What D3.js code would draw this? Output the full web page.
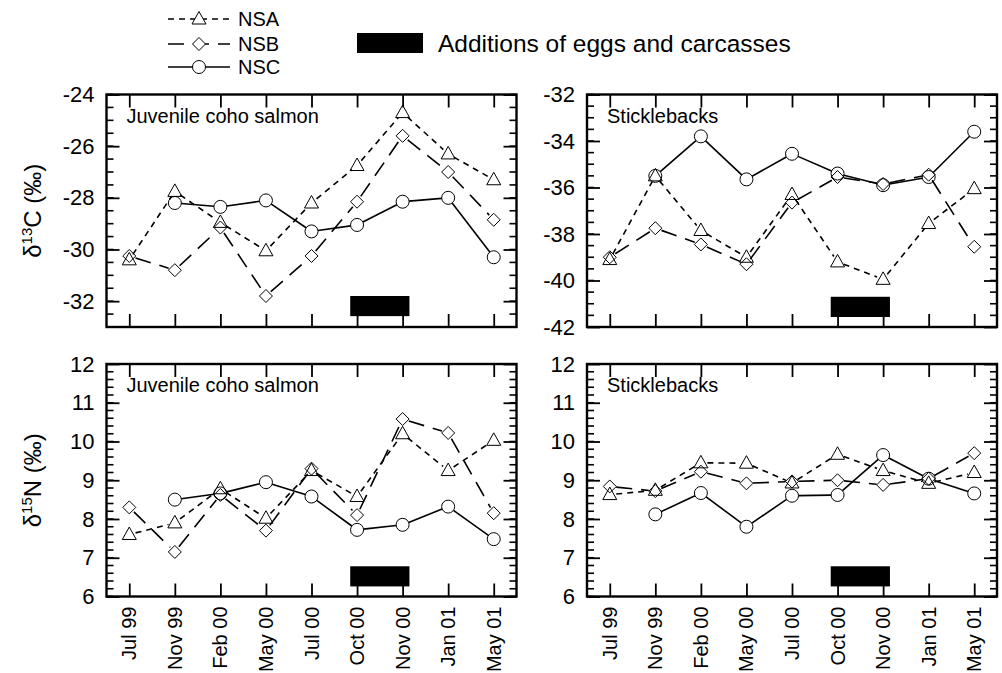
<!DOCTYPE html>
<html>
<head>
<meta charset="utf-8">
<script src="https://cdn.jsdelivr.net/npm/d3@7"></script>
<style>
  body { margin: 0; background: #fff; }
  svg { font-family: Helvetica, Arial, "Liberation Sans", sans-serif; }
</style>
</head>
<body>
<div class="chart"></div>
<script>
const WIDTH = 1002;
const HEIGHT = 673;

// sampling dates
var months = ['Jul 99', 'Nov 99', 'Feb 00', 'May 00', 'Jul 00', 'Oct 00', 'Nov 00', 'Jan 01', 'May 01'];
var series = ['NSA', 'NSB', 'NSC'];

// d13C, juvenile coho salmon
var cCohoNSA = [-30.4, -27.75, -28.95, -30.05, -28.2, -26.75, -24.7, -26.3, -27.3];
var cCohoNSB = [-30.25, -30.8, -29.15, -31.8, -30.25, -28.15, -25.6, -27.0, -28.85];
var cCohoNSC = [null, -28.2, -28.35, -28.1, -29.3, -29.05, -28.15, -28.0, -30.3];

// d13C, sticklebacks
var cStickNSA = [-39.1, -35.5, -37.85, -39.0, -36.3, -39.2, -39.95, -37.55, -36.05];
var cStickNSB = [-39.0, -37.75, -38.45, -39.3, -36.65, -35.55, -35.85, -35.45, -38.55];
var cStickNSC = [null, -35.5, -33.8, -35.65, -34.55, -35.4, -35.9, -35.55, -33.6];

// d15N, juvenile coho salmon
var nCohoNSA = [7.6, 7.9, 8.78, 8.02, 9.25, 8.58, 10.2, 9.25, 10.03];
var nCohoNSB = [8.3, 7.15, 8.62, 7.7, 9.3, 8.1, 10.58, 10.22, 8.15];
var nCohoNSC = [null, 8.5, 8.66, 8.95, 8.58, 7.72, 7.85, 8.32, 7.48];

// d15N, sticklebacks
var nStickNSA = [8.63, 8.74, 9.45, 9.44, 8.93, 9.67, 9.25, 8.92, 9.2];
var nStickNSB = [8.84, 8.72, 9.22, 8.92, 8.97, 9.0, 8.88, 9.04, 9.7];
var nStickNSC = [null, 8.12, 8.67, 7.8, 8.6, 8.62, 9.65, 9.04, 8.66];

// y axis tick values
var cCohoTicks = [-24, -26, -28, -30, -32];
var cStickTicks = [-32, -34, -36, -38, -40, -42];
var nTicks = [6, 7, 8, 9, 10, 11, 12];

// egg and carcass additions (Oct 00 - Nov 00)
var addX = [4.85, 6.15];

var panels = [
  {x: 106.5, y: 94.5, title: 'Juvenile coho salmon', domain: [-33, -24], ticks: cCohoTicks, minor: 0.5,
   data: [cCohoNSA, cCohoNSB, cCohoNSC], bar: [-31.8, -32.58], xLabels: false, yTitle: 'C'},
  {x: 587, y: 94.5, title: 'Sticklebacks', domain: [-42, -32], ticks: cStickTicks, minor: 0.5,
   data: [cStickNSA, cStickNSB, cStickNSC], bar: [-40.7, -41.57], xLabels: false},
  {x: 106.5, y: 364, title: 'Juvenile coho salmon', domain: [6, 12], ticks: nTicks, minor: 0.2,
   data: [nCohoNSA, nCohoNSB, nCohoNSC], bar: [6.78, 6.26], xLabels: true, yTitle: 'N'},
  {x: 587, y: 364, title: 'Sticklebacks', domain: [6, 12], ticks: nTicks, minor: 0.2,
   data: [nStickNSA, nStickNSB, nStickNSC], bar: [6.78, 6.26], xLabels: true}
];
const PW = 410;
const PH = 232.5;
const R = 6.5;

var dashes = {NSA: '6,5', NSB: '16,9', NSC: null};

var translate = function (x, y) {
  return 'translate(' + x + ',' + y + ')';
};

var markerPath = function (name) {
  if (name === 'NSA') return 'M0,-7.5L7,5L-7,5Z';
  if (name === 'NSB') return 'M0,-6.5L6.5,0L0,6.5L-6.5,0Z';
  return d3.symbol().type(d3.symbolCircle).size(Math.PI * R * R)();
};

var svg = d3.select('.chart').append('svg')
  .attr('width', WIDTH)
  .attr('height', HEIGHT);

var xScale = d3.scaleLinear().domain([-0.5, 8.5]).range([0, PW]);

panels.forEach(function (p) {
  var g = svg.append('g').attr('transform', translate(p.x, p.y));
  var yScale = d3.scaleLinear().domain(p.domain).range([PH, 0]);

  // minor ticks left and right
  var minor = d3.range(p.domain[0], p.domain[1] + 1e-6, p.minor);
  g.selectAll('.minorL').data(minor).enter().append('line')
    .attr('x1', 0).attr('x2', 7)
    .attr('y1', function (d) { return yScale(d); })
    .attr('y2', function (d) { return yScale(d); })
    .attr('stroke', '#000').attr('stroke-width', 1.6);
  g.selectAll('.minorR').data(minor).enter().append('line')
    .attr('x1', PW - 7).attr('x2', PW)
    .attr('y1', function (d) { return yScale(d); })
    .attr('y2', function (d) { return yScale(d); })
    .attr('stroke', '#000').attr('stroke-width', 1.6);

  // major y ticks, both sides
  var yLeft = d3.axisLeft(yScale).tickValues(p.ticks).tickSizeInner(-13).tickSizeOuter(0).tickPadding(12);
  var gy = g.append('g').call(yLeft);
  gy.select('.domain').remove();
  gy.selectAll('line').attr('stroke-width', 1.8);
  gy.selectAll('text').style('font-size', '22px').attr('fill', '#000')
    .text(function (d) { return d < 0 ? '-' + Math.abs(d) : d; });
  var yRight = d3.axisRight(yScale).tickValues(p.ticks).tickSizeInner(-13).tickSizeOuter(0).tickFormat('');
  var gyr = g.append('g').attr('transform', translate(PW, 0)).call(yRight);
  gyr.select('.domain').remove();
  gyr.selectAll('line').attr('stroke-width', 1.8);

  // x ticks top and bottom
  var idx = d3.range(months.length);
  var xBottom = d3.axisBottom(xScale).tickValues(idx).tickSizeInner(-13).tickSizeOuter(0).tickFormat('');
  var gxb = g.append('g').attr('transform', translate(0, PH)).call(xBottom);
  gxb.select('.domain').remove();
  gxb.selectAll('line').attr('stroke-width', 1.8);
  var xTop = d3.axisTop(xScale).tickValues(idx).tickSizeInner(-13).tickSizeOuter(0).tickFormat('');
  var gxt = g.append('g').call(xTop);
  gxt.select('.domain').remove();
  gxt.selectAll('line').attr('stroke-width', 1.8);

  if (p.xLabels) {
    g.selectAll('.xlab').data(months).enter().append('text')
      .attr('transform', function (d, i) { return translate(xScale(i) + 7, PH + 10) + ' rotate(-90)'; })
      .attr('text-anchor', 'end')
      .style('font-size', '20px')
      .text(function (d) { return d; });
  }

  // frame
  g.append('rect').attr('width', PW).attr('height', PH)
    .attr('fill', 'none').attr('stroke', '#000').attr('stroke-width', 2.4);

  // additions bar
  g.append('rect')
    .attr('x', xScale(addX[0]))
    .attr('width', xScale(addX[1]) - xScale(addX[0]))
    .attr('y', yScale(p.bar[0]))
    .attr('height', yScale(p.bar[1]) - yScale(p.bar[0]))
    .attr('fill', '#000');

  g.append('text').attr('x', 20).attr('y', 28)
    .style('font-size', '20px').text(p.title);

  // series: lines stop at the marker edges
  p.data.forEach(function (vals, s) {
    var name = series[s];
    var pts = [];
    vals.forEach(function (v, i) { if (v !== null) pts.push([xScale(i), yScale(v)]); });
    var segs = [];
    for (var k = 0; k < pts.length - 1; k++) {
      var a = pts[k], b = pts[k + 1];
      var dx = b[0] - a[0], dy = b[1] - a[1], len = Math.sqrt(dx * dx + dy * dy);
      var ux = dx / len, uy = dy / len;
      segs.push([[a[0] + ux * R, a[1] + uy * R], [b[0] - ux * R, b[1] - uy * R]]);
    }
    g.selectAll('.seg' + name).data(segs).enter().append('path')
      .attr('d', function (d) { return d3.line()(d); })
      .attr('fill', 'none').attr('stroke', '#000').attr('stroke-width', 1.6)
      .attr('stroke-dasharray', dashes[name]);
    g.selectAll('.pt' + name).data(pts).enter().append('path')
      .attr('transform', function (d) { return translate(d[0], d[1]); })
      .attr('d', markerPath(name))
      .attr('fill', 'none').attr('stroke', '#000').attr('stroke-width', 1);
  });

  if (p.yTitle) {
    var t = svg.append('text')
      .attr('transform', translate(41, p.y + PH / 2) + ' rotate(-90)')
      .attr('text-anchor', 'middle')
      .style('font-size', '24px');
    t.append('tspan').text('\u03b4');
    t.append('tspan').attr('dy', -9).style('font-size', '15px').text(p.yTitle === 'C' ? '13' : '15');
    t.append('tspan').attr('dy', 9).text(p.yTitle + ' (\u2030)');
  }
});

// legend
var legend = svg.append('g');
series.forEach(function (name, i) {
  var y = [19, 44, 67][i];
  legend.append('line').attr('x1', 168).attr('x2', 230).attr('y1', y).attr('y2', y)
    .attr('stroke', '#000').attr('stroke-width', 1.6).attr('stroke-dasharray', dashes[name]);
  legend.append('path').attr('transform', translate(199, y)).attr('d', markerPath(name))
    .attr('fill', '#fff').attr('stroke', '#000').attr('stroke-width', 1);
  legend.append('text').attr('x', 238).attr('y', y + 7).style('font-size', '20px').text(name);
});
legend.append('rect').attr('x', 357).attr('y', 33).attr('width', 66).attr('height', 20).attr('fill', '#000');
legend.append('text').attr('x', 438).attr('y', 51.5).style('font-size', '24.5px').text('Additions of eggs and carcasses');
</script>
</body>
</html>
